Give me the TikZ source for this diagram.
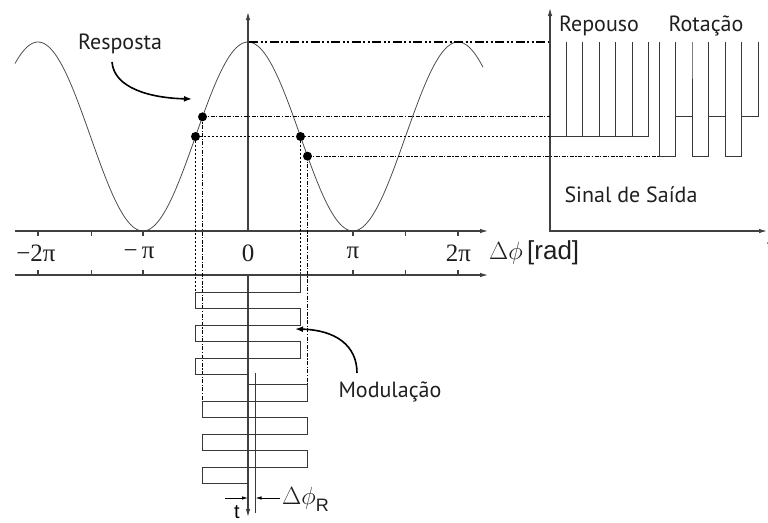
\documentclass[tikz,border=0pt]{standalone}
\usepackage{fontspec}
\setmainfont{PT Sans}
\newfontfamily\serifgr{Liberation Serif}
\newfontfamily\arial{Liberation Sans}
\usetikzlibrary{arrows.meta}
\tikzset{
  axline/.style={draw=black!75, line width=1.1pt},
  arr/.style={-{Latex[length=8pt,width=4.5pt]}},
  wavline/.style={draw=black!78, line width=1pt},
  dshline/.style={draw=black, line width=1.4pt, dash pattern=on 2.5pt off 1.5pt},
  ddline/.style={draw=black, line width=1.1pt, dash pattern=on 4pt off 1.5pt on 1.2pt off 1.5pt},
  dddline/.style={draw=black, line width=1.5pt, dash pattern=on 9pt off 2.5pt on 2pt off 2.5pt on 2pt off 2.5pt},
  lbl/.style={font=\fontsize{22}{22}\selectfont, text=black!88, inner sep=0pt},
  ticklbl/.style={font=\serifgr\fontsize{25}{25}\selectfont, text=black!88, inner sep=0pt},
  ptdot/.style={circle, fill=black, inner sep=0pt, minimum size=9pt},
  curvarrow/.style={draw=black, line width=1.6pt, -{Latex[length=8pt,width=6pt]}},
  dimarrow/.style={draw=black, line width=0.8pt, -{Latex[length=6pt,width=3.5pt]}}
}
\begin{document}
\begin{tikzpicture}[x=1pt,y=-1pt]
\useasboundingbox (0,0) rectangle (768,522);

% cosine response
\draw[black!70, line width=0.8pt] plot[domain=15:483, samples=240, smooth]
  (\x, {136.5-94.5*cos((\x-248)/105*180)});

% phase axes
\draw[axline,arr] (15,231) -- (488,231);
\draw[axline,arr] (15,275) -- (488,275);
\foreach \p in {38,91.5,143,353,405.5,458}{
  \draw[axline] (\p,231) -- (\p,236);
  \draw[axline] (\p,275) -- (\p,270);
}
\draw[axline,arr] (248,231) -- (248,12);
\draw[axline,arr] (248,275) -- (248,517);

\node[ticklbl] (lm2) at (36,253) {−2π};
\node[ticklbl] (lm1) at (139,253) {−\,π};
\node[ticklbl] (l0) at (248,253) {0};
\node[ticklbl] (l1) at (353,253) {π};
\node[ticklbl] (l2) at (458.5,253) {2π};
\node[inner sep=0pt, anchor=west, text=black!88] (dphi) at (489,253)
  {\fontsize{26}{26}\selectfont$\Delta\phi$\,\arial[rad]};

% points on the response
\node[ptdot] (d1) at (202.5,116.85) {};
\node[ptdot] (d2) at (195.5,136.5) {};
\node[ptdot] (d3) at (300.5,136.5) {};
\node[ptdot] (d4) at (307.5,156.15) {};
\coordinate (pk) at (249,42);

% output axes
\coordinate (oy) at (550,8);
\coordinate (oo) at (550,231);
\coordinate (ox) at (767,231);
\draw[axline,{Latex[length=8pt,width=4.5pt]}-{Latex[length=8pt,width=4.5pt]}] (oy) -- (oo) -- (ox);
\node[font=\arial\fontsize{20}{20}\selectfont, inner sep=0pt] (tout) at (770,247) {t};

% projection lines
\coordinate (e0) at (548,42);
\coordinate (e1) at (550,116.85);
\coordinate (e2) at (550,136.5);
\coordinate (e4) at (659,156.15);
\draw[dddline] (pk) -- (e0);
\draw[ddline] (d1.center) -- (e1);
\draw[dshline] (d2.center) -- (d3.center) -- (e2);
\draw[ddline] (d4.center) -- (e4);

% vertical projections
\coordinate (v2) at (195.5,292);
\coordinate (v1) at (202.5,401);
\coordinate (v3) at (300.5,272);
\coordinate (v4) at (307.5,384.5);
\draw[dshline] (d2.center) -- (v2);
\draw[ddline] (d1.center) -- (v1);
\draw[dshline] (d3.center) -- (v3);
\draw[ddline] (d4.center) -- (v4);

% output signal: rest
\draw[wavline] (550,136.5) -- (648,136.5);
\foreach \s in {566,582.5,599,615.5,632,648}{
  \draw[wavline] (\s,136.5) -- (\s,42);
}
% output signal: rotation
\draw[wavline] (659,42) -- (659,156.15) -- (675.5,156.15) -- (675.5,42) -- (675.5,116.85)
  -- (692,116.85) -- (692,42) -- (692,156.15) -- (708.5,156.15) -- (708.5,42)
  -- (708.5,116.85) -- (725,116.85) -- (725,42) -- (725,156.15) -- (741.5,156.15)
  -- (741.5,42) -- (741.5,116.85) -- (758,116.85) -- (758,42);

\node[lbl] (rep) at (599,26) {Repouso};
\node[lbl] (rot) at (706,26) {Rotação};
\node[lbl] (sinal) at (631,195) {Sinal de Saída};

% modulation waveform
\draw[wavline] (v3) -- (300.5,292) -- (v2) -- (195.5,308.5) -- (300.5,308.5) -- (300.5,325)
  -- (195.5,325) -- (195.5,341.5) -- (300.5,341.5) -- (300.5,358) -- (195.5,358)
  -- (195.5,374.5) -- (248,374.5);
\draw[wavline] (248,384.5) -- (v4) -- (307.5,401) -- (v1) -- (202.5,417.5) -- (307.5,417.5)
  -- (307.5,434) -- (202.5,434) -- (202.5,450.5) -- (307.5,450.5) -- (307.5,467)
  -- (202.5,467) -- (202.5,483.5) -- (248,483.5);
\coordinate (rt) at (255.5,373);
\coordinate (rb) at (255.5,513);
\draw[wavline] (rt) -- (rb);

% delta phi_R dimension
\coordinate (da) at (225,498);
\coordinate (db) at (248,498);
\coordinate (dc) at (280,498);
\coordinate (dd) at (255.5,498);
\draw[dimarrow] (da) -- (db);
\draw[dimarrow] (dc) -- (dd);
\node[font=\arial\fontsize{20}{20}\selectfont, inner sep=0pt] (tt) at (237,512) {t};
\node[inner sep=0pt, anchor=west, text=black!88] (dphir) at (282,499)
  {\fontsize{24}{24}\selectfont$\Delta\phi$\raisebox{-7pt}{\arial\fontsize{18}{18}\selectfont R}};

% labels with curved arrows
\node[lbl] (resp) at (120,44) {Resposta};
\coordinate (ra) at (112,62);
\coordinate (rbb) at (192,99);
\draw[curvarrow] (ra) .. controls (114,88) and (150,98) .. (rbb);

\node[lbl] (mod) at (390,392) {Modulação};
\coordinate (ma) at (357,373);
\coordinate (mb) at (295,329);
\draw[curvarrow] (ma) .. controls (357,345) and (335,330) .. (mb);
\end{tikzpicture}
\end{document}
